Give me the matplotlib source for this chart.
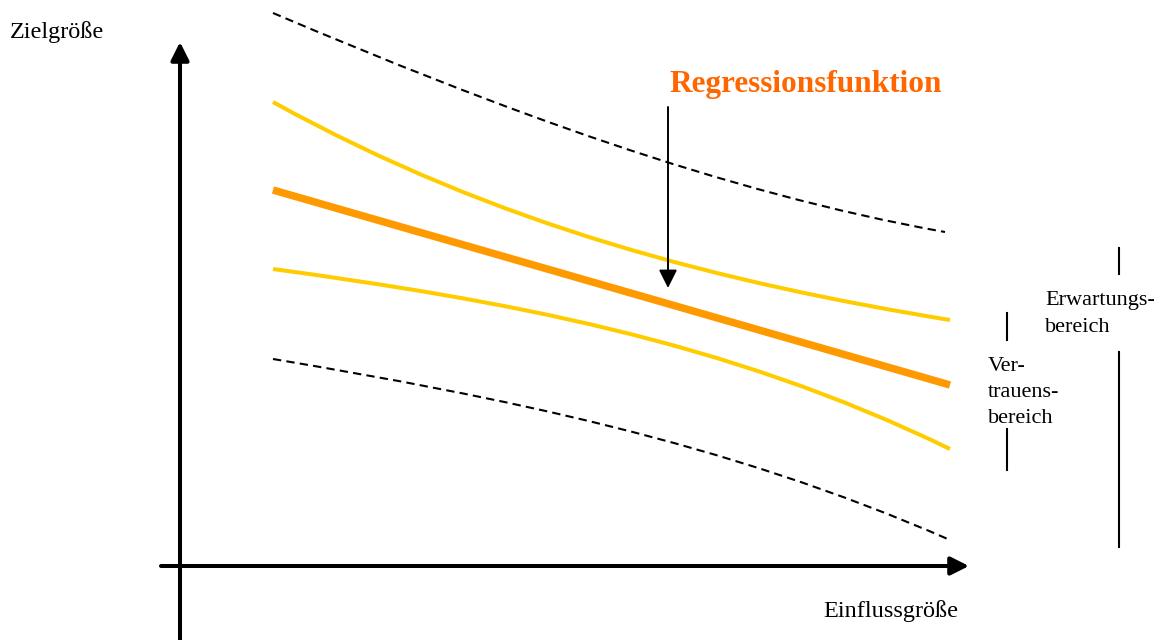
import matplotlib
matplotlib.use('Agg')
import matplotlib.pyplot as plt
from matplotlib.path import Path
from matplotlib.patches import PathPatch

plt.rcParams['font.family'] = ['Liberation Serif', 'DejaVu Serif']

# sketch coordinates (x to the right, y downwards)
# bands are cubic Bezier curves: start, two control points, end
x_upper_pred = [273, 497, 721, 945]
y_upper_pred = [13, 108, 192, 232]

x_upper_conf = [273, 499, 724, 950]
y_upper_conf = [102, 227, 283, 320]

x_lower_conf = [273, 499, 724, 950]
y_lower_conf = [269, 300, 339, 449]

x_lower_pred = [273, 499, 724, 950]
y_lower_pred = [359, 397, 441, 540]

# regression line (straight)
x_regr = [273, 950]
y_regr = [190, 385]

YELLOW = '#FFCC00'
ORANGE = '#FF9900'
TEXT_ORANGE = '#FF6600'

fig = plt.figure(figsize=(11.66, 6.4), dpi=100)
ax = fig.add_axes([0, 0, 1, 1])
ax.set_xlim(0, 1166)
ax.set_ylim(640, 0)
ax.axis('off')


def bezier(xs, ys, **kw):
    codes = [Path.MOVETO, Path.CURVE4, Path.CURVE4, Path.CURVE4]
    p = Path(list(zip(xs, ys)), codes)
    ax.add_patch(PathPatch(p, fill=False, **kw))


dash = (0, (4, 2.5))
bezier(x_upper_pred, y_upper_pred, edgecolor='black', lw=1.5, linestyle=dash)
bezier(x_lower_pred, y_lower_pred, edgecolor='black', lw=1.5, linestyle=dash)
bezier(x_upper_conf, y_upper_conf, edgecolor=YELLOW, lw=2.9, capstyle='butt')
bezier(x_lower_conf, y_lower_conf, edgecolor=YELLOW, lw=2.9, capstyle='butt')
ax.plot(x_regr, y_regr, color=ORANGE, lw=5.4, solid_capstyle='butt')

# axes with arrow heads
head = '-|>,head_length=1.1,head_width=0.55'
ax.annotate('', xy=(180, 42), xytext=(180, 640),
            arrowprops=dict(arrowstyle=head, lw=2.9, color='black',
                            shrinkA=0, shrinkB=0, mutation_scale=10))
ax.annotate('', xy=(969, 566), xytext=(161, 566),
            arrowprops=dict(arrowstyle=head, lw=2.9, color='black',
                            shrinkA=0, shrinkB=0, mutation_scale=10))

ax.text(10, 38, 'Zielgröße', fontsize=17.5, ha='left', va='baseline')
ax.text(958, 617, 'Einflussgröße', fontsize=17.5, ha='right', va='baseline')

# label for the regression line
ax.text(806, 92, 'Regressionsfunktion', fontsize=22.5, fontweight='bold',
        color=TEXT_ORANGE, ha='center', va='baseline')
ax.annotate('', xy=(668, 288), xytext=(668, 107),
            arrowprops=dict(arrowstyle=head, lw=1.4, color='black',
                            shrinkA=0, shrinkB=0, mutation_scale=10))

# range brackets on the right
ax.plot([1007, 1007], [313, 340], color='black', lw=1.5)
ax.plot([1007, 1007], [429, 470], color='black', lw=1.5)
ax.plot([1119, 1119], [248, 274], color='black', lw=1.5)
ax.plot([1119, 1119], [352, 547], color='black', lw=1.5)

for txt, yb in zip(['Ver-', 'trauens-', 'bereich'], [371, 397, 423]):
    ax.text(988, yb, txt, fontsize=16, ha='left', va='baseline')
for txt, yb in zip(['Erwartungs-', 'bereich'], [305, 332]):
    ax.text(1045, yb, txt, fontsize=16, ha='left', va='baseline')

fig.savefig('out.png', dpi=100)
